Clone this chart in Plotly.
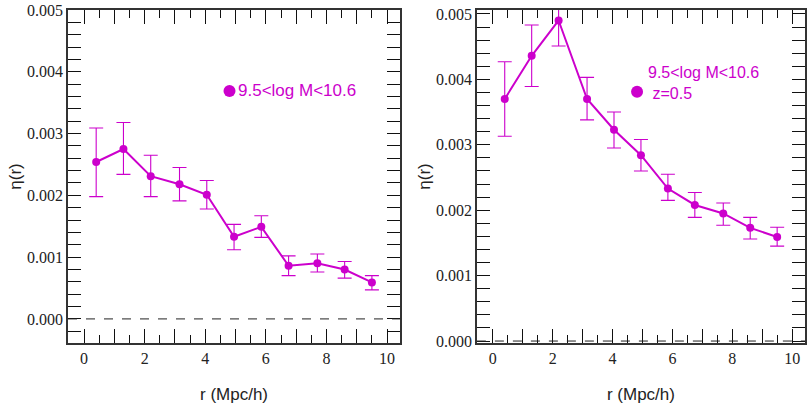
import plotly.graph_objects as go
from plotly.subplots import make_subplots

# ---- data ----
r_vals = [0.4, 1.3, 2.2, 3.15, 4.05, 4.95, 5.85, 6.75, 7.7, 8.6, 9.5]

left_eta = [2.54e-3, 2.75e-3, 2.31e-3, 2.18e-3, 2.01e-3, 1.33e-3, 1.49e-3, 0.86e-3, 0.90e-3, 0.80e-3, 0.59e-3]
left_hi = [3.09e-3, 3.18e-3, 2.65e-3, 2.45e-3, 2.24e-3, 1.53e-3, 1.67e-3, 1.02e-3, 1.05e-3, 0.93e-3, 0.70e-3]
left_lo = [1.98e-3, 2.34e-3, 1.98e-3, 1.91e-3, 1.78e-3, 1.12e-3, 1.32e-3, 0.70e-3, 0.76e-3, 0.66e-3, 0.47e-3]

right_eta = [3.70e-3, 4.36e-3, 4.90e-3, 3.70e-3, 3.23e-3, 2.84e-3, 2.33e-3, 2.08e-3, 1.95e-3, 1.73e-3, 1.59e-3]
right_hi = [4.27e-3, 4.83e-3, 5.30e-3, 4.03e-3, 3.50e-3, 3.08e-3, 2.55e-3, 2.27e-3, 2.11e-3, 1.89e-3, 1.74e-3]
right_lo = [3.13e-3, 3.89e-3, 4.51e-3, 3.38e-3, 2.95e-3, 2.60e-3, 2.15e-3, 1.89e-3, 1.77e-3, 1.56e-3, 1.45e-3]

x_tickvals = [0, 1, 2, 3, 4, 5, 6, 7, 8, 9, 10]
x_ticktext = ["0", "", "2", "", "4", "", "6", "", "8", "", "10"]
y_tickvals = [0.0, 0.001, 0.002, 0.003, 0.004, 0.005]
y_ticktext = ["0.000", "0.001", "0.002", "0.003", "0.004", "0.005"]

label_mass = "9.5<log M<10.6"
label_z = "z=0.5"
x_title = "r (Mpc/h)"
y_title = "η(r)"

COLOR = "#cc00cc"
AX = "#333333"

fig = make_subplots(rows=1, cols=2, horizontal_spacing=0.104)

def add_panel(col, eta, hi, lo):
    err_p = [h - e for h, e in zip(hi, eta)]
    err_m = [e - l for e, l in zip(eta, lo)]
    fig.add_trace(go.Scatter(
        x=r_vals, y=eta, mode="lines+markers",
        line=dict(color=COLOR, width=2),
        marker=dict(color=COLOR, size=8),
        error_y=dict(type="data", array=err_p, arrayminus=err_m,
                     color=COLOR, thickness=1.1, width=7),
        showlegend=False, hoverinfo="skip"), row=1, col=col)

add_panel(1, left_eta, left_hi, left_lo)
add_panel(2, right_eta, right_hi, right_lo)

# legend-like markers
fig.add_trace(go.Scatter(x=[4.8], y=[3.69e-3], mode="markers",
                         marker=dict(color=COLOR, size=12), showlegend=False,
                         hoverinfo="skip"), row=1, col=1)
fig.add_trace(go.Scatter(x=[4.82], y=[3.81e-3], mode="markers",
                         marker=dict(color=COLOR, size=12), showlegend=False,
                         hoverinfo="skip"), row=1, col=2)

ann_font = dict(family="Liberation Sans, Arial, sans-serif", size=17, color=COLOR)
fig.add_annotation(x=5.03, y=3.69e-3, xref="x", yref="y", text=label_mass,
                   showarrow=False, xanchor="left", yanchor="middle", font=ann_font)
fig.add_annotation(x=5.12, y=3.945e-3, xref="x2", yref="y2",
                   text=label_mass + "<br>\u00a0" + label_z, align="left",
                   showarrow=False, xanchor="left", yanchor="middle",
                   font=dict(family="Liberation Sans, Arial, sans-serif", size=16, color=COLOR))

# dashed zero lines
for xr, yr in (("x domain", "y"), ("x2 domain", "y2")):
    fig.add_shape(type="line", xref=xr, yref=yr, x0=0, x1=1, y0=0, y1=0,
                  line=dict(color="#222222", width=1, dash="dash"))

tick_font = dict(family="Liberation Serif, Times New Roman, serif", size=16, color="#222222")
title_font = dict(family="Liberation Sans, Arial, sans-serif", size=17, color="#222222")

xaxis_common = dict(
    range=[-0.53, 10.43], tickmode="array", tickvals=x_tickvals, ticktext=x_ticktext,
    ticks="inside", ticklen=14, tickwidth=1, tickcolor="#111111",
    minor=dict(dtick=0.5, tick0=0, ticks="inside", ticklen=8, tickwidth=1, tickcolor="#111111"),
    showline=True, linecolor=AX, linewidth=1.5, mirror="allticks",
    showgrid=False, zeroline=False, tickfont=tick_font,
    title=dict(text=x_title, font=title_font, standoff=22),
)
yaxis_common = dict(
    tickmode="array", tickvals=y_tickvals, ticktext=y_ticktext,
    ticks="inside", ticklen=13, tickwidth=1, tickcolor="#111111",
    minor=dict(dtick=0.0002, tick0=0, ticks="inside", ticklen=13, tickwidth=1, tickcolor="#111111"),
    showline=True, linecolor=AX, linewidth=1.5, mirror="allticks",
    showgrid=False, zeroline=False, tickfont=tick_font,
    title=dict(text=y_title, font=title_font, standoff=1),
)

fig.update_xaxes(**xaxis_common)
fig.update_yaxes(**yaxis_common)
fig.update_yaxes(range=[-0.00039, 0.005], row=1, col=1)
fig.update_yaxes(range=[-0.00003, 0.00506], row=1, col=2)

fig.update_layout(
    width=808, height=405,
    margin=dict(l=68, r=1, t=10, b=62),
    paper_bgcolor="white", plot_bgcolor="white",
    xaxis=dict(domain=[0, 0.4506]),
    xaxis2=dict(domain=[0.5548, 1.0]),
)

fig.write_html("out.html", config={"displayModeBar": False},
               post_script="document.body.style.margin='0';")
